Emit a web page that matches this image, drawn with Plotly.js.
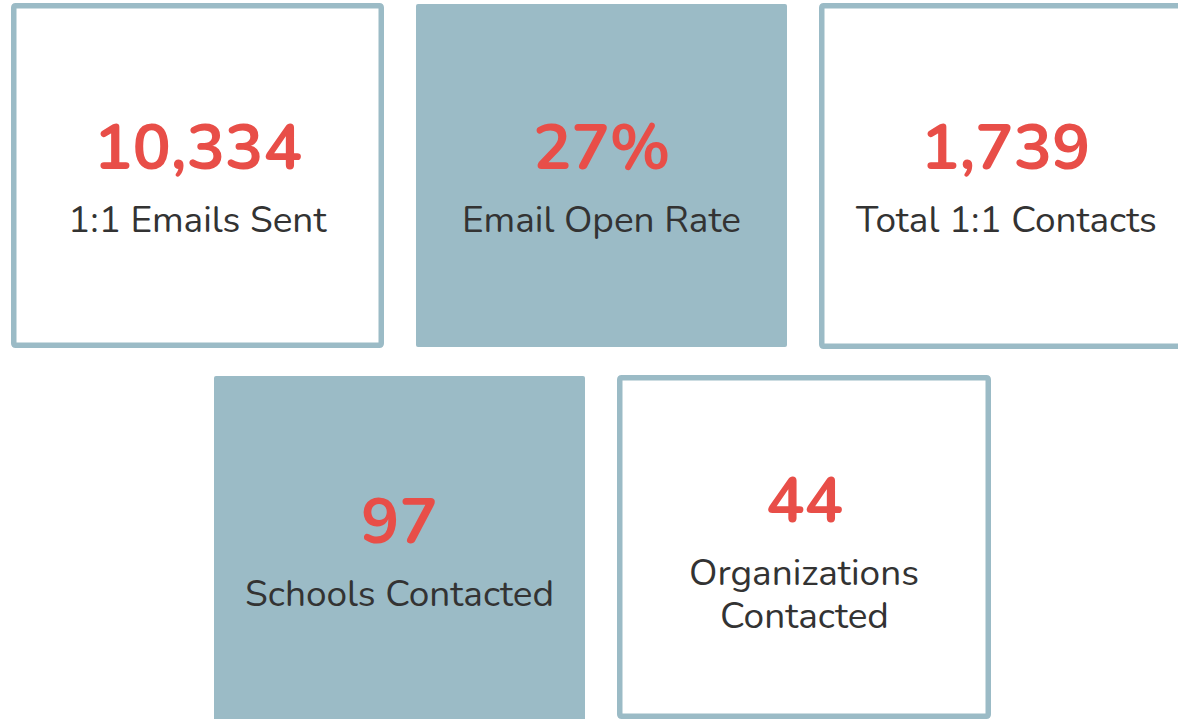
<!DOCTYPE html>
<html>
<head>
<meta charset="utf-8">
<script src="https://cdn.plot.ly/plotly-3.0.1.min.js"></script>
<style>
html,body{margin:0;padding:0;background:#fff;}
#chart{width:1178px;height:719px;}
</style>
</head>
<body>
<div id="chart"></div>
<script>
// ---- data ----
const values = ["10,334", "27%", "1,739", "97", "44"];
const labels = [["1:1 Emails Sent"], ["Email Open Rate"], ["Total 1:1 Contacts"], ["Schools Contacted"], ["Organizations", "Contacted"]];
const filled = [false, true, false, true, false];

// ---- layout of tiles (pixel boxes: x0, x1, y0, y1 outer) ----
const boxes = [
  [11, 384, 3, 348],
  [416, 787, 4, 347],
  [819, 1192, 3, 349],
  [214, 585, 376, 724],
  [617, 991, 375, 719]
];
const numY = [148, 148, 148, 522, 501];
const labY = [220, 220, 220, 594, 573];
const LINE = 43;

const BORDER = "#9bbbc6";
const FILL = "#9bbbc6";
const RED = "#e84e48";
const DARK = "#333333";
const FONT = "Nunito, Lato, 'Noto Sans', sans-serif";

function roundRect(x0, x1, y0, y1, r) {
  return `M${x0 + r},${y0} L${x1 - r},${y0} Q${x1},${y0} ${x1},${y0 + r} L${x1},${y1 - r} Q${x1},${y1} ${x1 - r},${y1} L${x0 + r},${y1} Q${x0},${y1} ${x0},${y1 - r} L${x0},${y0 + r} Q${x0},${y0} ${x0 + r},${y0} Z`;
}

const shapes = boxes.map((b, i) => {
  if (filled[i]) {
    return {type: "path", xref: "x", yref: "y", path: roundRect(b[0], b[1], b[2], b[3], 2),
      fillcolor: FILL, line: {width: 0}, layer: "below"};
  }
  const w = 5.5, h = w / 2;
  return {type: "path", xref: "x", yref: "y", path: roundRect(b[0] + h, b[1] - h, b[2] + h, b[3] - h, 2),
    fillcolor: "rgba(0,0,0,0)", line: {color: BORDER, width: w}, layer: "below"};
});

const annotations = [];
boxes.forEach((b, i) => {
  const cx = (b[0] + b[1]) / 2;
  annotations.push({x: cx, y: numY[i], xref: "x", yref: "y", text: "<b>" + values[i] + "</b>",
    showarrow: false, xanchor: "center", yanchor: "middle",
    font: {family: FONT, size: 64, color: RED}});
  labels[i].forEach((line, k) => {
    annotations.push({x: cx, y: labY[i] + k * LINE, xref: "x", yref: "y", text: line,
      showarrow: false, xanchor: "center", yanchor: "middle",
      font: {family: FONT, size: 37, color: DARK}});
  });
});

const layout = {
  width: 1178, height: 719,
  margin: {l: 0, r: 0, t: 0, b: 0},
  paper_bgcolor: "#ffffff", plot_bgcolor: "#ffffff",
  xaxis: {range: [0, 1178], visible: false, fixedrange: true},
  yaxis: {range: [719, 0], visible: false, fixedrange: true},
  showlegend: false,
  shapes: shapes,
  annotations: annotations
};

Plotly.newPlot("chart", [{x: [], y: [], type: "scatter", mode: "markers", hoverinfo: "skip"}], layout,
  {staticPlot: true, displayModeBar: false});
</script>
</body>
</html>
